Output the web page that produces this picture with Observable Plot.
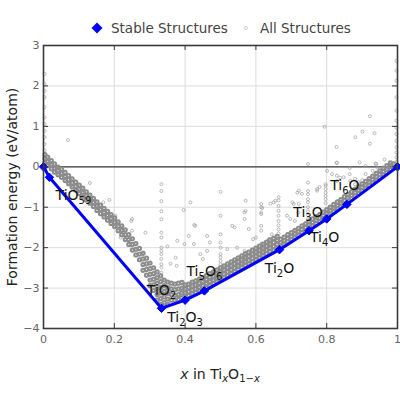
<!DOCTYPE html>
<html><head><meta charset="utf-8">
<script src="https://cdn.jsdelivr.net/npm/d3@7"></script>
<script src="https://cdn.jsdelivr.net/npm/@observablehq/plot@0.6"></script>
<style>
body{margin:0;background:#fff;font-family:"DejaVu Sans",sans-serif;}
#wrap{position:relative;width:400px;height:400px;overflow:hidden;}
#chart{position:absolute;left:0;top:0;}
.lg{position:absolute;font-size:13.5px;line-height:16px;color:#444;white-space:nowrap;}
#xlabel{position:absolute;left:0;width:440px;top:366px;text-align:center;font-size:14px;line-height:16px;color:#222;white-space:nowrap;}
#xlabel sub{font-size:10px;vertical-align:-3px;line-height:0;}
</style></head><body>
<div id="wrap">
  <div id="chart"></div>
  <svg class="lg" style="left:91px;top:22px" width="12" height="12"><polygon points="6,0.5 11.5,6 6,11.5 0.5,6" fill="#0000ff"/></svg>
  <div class="lg" style="left:111px;top:20px">Stable Structures</div>
  <svg class="lg" style="left:243px;top:25px" width="6" height="6"><circle cx="3" cy="3" r="1.5" fill="none" stroke="#c4c4c4" stroke-width="0.8"/></svg>
  <div class="lg" style="left:260px;top:20px">All Structures</div>
  <div id="xlabel"><i>x</i> in Ti<sub><i>x</i></sub>O<sub>1−<i>x</i></sub></div>
</div>
<script>
// ---- Stable structures (convex hull) ----
const stableNames = ["O", "TiO59", "TiO2", "Ti2O3", "Ti5O6", "Ti2O", "Ti3O", "Ti4O", "Ti6O", "Ti"];
const stableX = [0, 0.0167, 0.3333, 0.4, 0.4545, 0.6667, 0.75, 0.8, 0.8571, 1];
const stableY = [0, -0.26, -3.5, -3.3, -3.07, -2.05, -1.58, -1.29, -0.93, 0];

// ---- All structures: dense bands, given as columns [x, [y...]] ----
const leftBand = [
  [0.004,[0.3,0.2,0.1]],[0.012,[0.24,0.13,0.03]],[0.022,[0.15,0.05,-0.05]],[0.031,[0.07,-0.03,-0.13]],
  [0.041,[-0.01,-0.1,-0.2]],[0.051,[-0.06,-0.16,-0.26]],[0.061,[-0.14,-0.24,-0.34]],[0.071,[-0.22,-0.32,-0.42]],
  [0.081,[-0.3,-0.4,-0.5]],[0.091,[-0.38,-0.48,-0.58]],[0.101,[-0.45,-0.55,-0.66]],[0.111,[-0.53,-0.63,-0.74]],
  [0.121,[-0.62,-0.72,-0.82]],[0.131,[-0.7,-0.8,-0.9]],[0.141,[-0.78,-0.88,-0.98]],[0.151,[-0.87,-0.97,-1.08]],
  [0.161,[-0.95,-1.05,-1.16]],[0.171,[-1.03,-1.13,-1.24]],[0.181,[-1.1,-1.2,-1.32]],[0.191,[-1.18,-1.28,-1.4]],
  [0.201,[-1.26,-1.37,-1.48]],[0.211,[-1.36,-1.47,-1.58]],[0.221,[-1.46,-1.57,-1.68]],[0.231,[-1.56,-1.68,-1.8]],
  [0.241,[-1.68,-1.8,-1.92]],[0.251,[-1.78,-1.92,-2.06]],[0.261,[-1.9,-2.04,-2.18]],[0.271,[-2.02,-2.16,-2.3]],
  [0.281,[-2.14,-2.28,-2.42,-2.56]],[0.291,[-2.26,-2.4,-2.54,-2.68]],[0.301,[-2.38,-2.52,-2.66,-2.8,-2.94]],
  [0.311,[-2.5,-2.64,-2.78,-2.92,-3.06]],[0.321,[-2.6,-2.74,-2.88,-3.02,-3.16,-3.3]],
  [0.331,[-2.7,-2.84,-2.98,-3.12,-3.26,-3.4]],[0.341,[-2.8,-2.94,-3.08,-3.22,-3.36]],
  [0.351,[-2.85,-2.99,-3.13,-3.27,-3.4]],[0.361,[-2.88,-3.02,-3.16,-3.3]],[0.371,[-2.9,-3.04,-3.18,-3.3]],
  [0.381,[-2.88,-3.02,-3.16,-3.28]],[0.391,[-2.86,-3.0,-3.12,-3.24]]
];
const rightBand = [
  [0.40,[-3.22,-3.12,-3.02,-2.92]],[0.41,[-3.18,-3.09,-2.99,-2.9]],[0.42,[-3.14,-3.05,-2.95,-2.85]],
  [0.43,[-3.11,-3.02,-2.92,-2.82]],[0.44,[-3.07,-2.98,-2.88,-2.78]],[0.45,[-3.03,-2.94,-2.84,-2.74]],
  [0.46,[-2.98,-2.89,-2.79,-2.69]],[0.47,[-2.93,-2.84,-2.74,-2.64]],[0.48,[-2.89,-2.8,-2.7,-2.6]],
  [0.49,[-2.84,-2.75,-2.65,-2.55]],[0.50,[-2.79,-2.7,-2.6,-2.5]],[0.51,[-2.74,-2.65,-2.55,-2.45]],
  [0.52,[-2.69,-2.6,-2.5,-2.4]],[0.53,[-2.64,-2.55,-2.45,-2.35]],[0.54,[-2.59,-2.5,-2.4,-2.3]],
  [0.55,[-2.54,-2.45,-2.35,-2.25]],[0.56,[-2.49,-2.4,-2.3,-2.2]],[0.57,[-2.44,-2.35,-2.25,-2.15]],
  [0.58,[-2.4,-2.31,-2.21,-2.11]],[0.59,[-2.35,-2.26,-2.16,-2.06]],[0.60,[-2.3,-2.21,-2.11,-2.01]],
  [0.61,[-2.25,-2.16,-2.06,-1.96]],[0.62,[-2.2,-2.11,-2.01,-1.91]],[0.63,[-2.15,-2.06,-1.96,-1.86]],
  [0.64,[-2.1,-2.01,-1.91,-1.81]],[0.65,[-2.06,-1.97,-1.87,-1.77]],[0.66,[-2.01,-1.92,-1.82,-1.72]],
  [0.67,[-1.96,-1.88,-1.79]],[0.68,[-1.91,-1.83,-1.74]],[0.69,[-1.85,-1.77,-1.68]],[0.70,[-1.8,-1.72,-1.63]],
  [0.71,[-1.74,-1.66,-1.57]],[0.72,[-1.69,-1.61,-1.52]],[0.73,[-1.63,-1.55,-1.46]],[0.74,[-1.58,-1.5,-1.41]],
  [0.75,[-1.52,-1.44,-1.35]],[0.76,[-1.46,-1.38,-1.29]],[0.77,[-1.4,-1.32,-1.23]],[0.78,[-1.35,-1.27,-1.18]],
  [0.79,[-1.29,-1.21,-1.12]],[0.80,[-1.23,-1.15,-1.06]],[0.81,[-1.17,-1.09,-1.0]],[0.82,[-1.1,-1.02,-0.93]],
  [0.83,[-1.04,-0.96,-0.87]],[0.84,[-0.98,-0.9,-0.81]],[0.85,[-0.91,-0.83,-0.74]],[0.86,[-0.85,-0.77,-0.68]],
  [0.87,[-0.79,-0.71,-0.62]],[0.88,[-0.72,-0.64,-0.55]],[0.89,[-0.66,-0.58,-0.49]],[0.90,[-0.59,-0.51,-0.42]],
  [0.91,[-0.53,-0.45,-0.36]],[0.92,[-0.46,-0.38,-0.29]],[0.93,[-0.4,-0.32,-0.23]],[0.94,[-0.33,-0.25,-0.16]],
  [0.95,[-0.27,-0.19,-0.1]],[0.96,[-0.2,-0.12,-0.03]],[0.97,[-0.14,-0.06,0.03]],[0.98,[-0.07,0.01,0.1]],
  [0.99,[-0.01,0.07]]
];
// vertical streaks of structures at fixed compositions
const streaks = [
  [0.003,[2.3,2.05,1.88,1.72,1.47,1.22,1.06,0.89,0.73,0.56,0.4]],
  [0.997,[2.62,2.38,2.13,1.72,1.39,1.14,0.97,0.81,0.64,0.48,0.35,0.23,0.12]],
  [0.333,[-0.43,-0.6,-0.85,-1.1,-1.3,-1.63,-1.75,-2.0,-2.08,-2.16,-2.28,-2.41,-2.49,-2.62]],
  [0.5,[-0.62,-1.21,-1.67,-1.87,-2.0,-2.16,-2.24,-2.33,-2.41,-2.49,-2.57,-2.62]],
  [0.568,[-1.13,-1.29,-2.08,-2.16,-2.28]],
  [0.615,[-0.92,-1.0,-1.13,-1.17,-1.46,-1.58,-1.91,-2.04,-2.12]],
  [0.664,[-0.75,-0.83,-0.97,-1.09,-1.21,-1.34,-1.45,-1.55,-1.65]],
  [0.747,[0.07,-0.39,-0.6,-0.68,-0.8,-0.88,-1.0,-1.1,-1.2,-1.3]],
  [0.797,[-0.43,-0.47,-0.55,-0.64,-0.72,-0.8,-0.9]]
];
// isolated structures [x, y]
const scattered = [
  [0.069,0.66],[0.794,0.99],[0.922,1.25],[0.901,0.87],[0.881,0.73],[0.935,0.83],[0.922,0.57],[0.828,0.49],
  [0.828,0.1],[0.893,0.11],[0.94,0.07],[0.963,0.18],[0.865,-0.03],[0.91,0.02],[0.938,0.08],[0.829,0.1],
  [0.131,-0.4],[0.169,-0.88],[0.186,-0.82],[0.203,-1.21],[0.218,-1.75],[0.248,-1.34],[0.25,-1.29],[0.25,-1.58],
  [0.288,-1.63],[0.283,-2.12],[0.415,-0.88],[0.429,-1.46],[0.373,-2.25],[0.35,-1.97],[0.378,-1.83],[0.462,-2.08],
  [0.359,-2.4],[0.376,-2.45],[0.41,-1.71],[0.425,-1.91],[0.571,-0.84],[0.571,-1.09],[0.396,-1.07],[0.618,-1.02],
  [0.426,-1.44],[0.398,-1.91],[0.443,-2.16],[0.45,-2.28],[0.462,-1.71],[0.47,-1.87],[0.533,-1.46],[0.54,-1.5],
  [0.58,-1.54],[0.592,-1.79],[0.6,-1.75],[0.636,-1.79],[0.64,-1.91],[0.645,-1.67],[0.519,-2.04],[0.547,-2.0],
  [0.561,-2.41],[0.641,-0.91],[0.655,-0.84],[0.65,-0.88],[0.717,-0.64],[0.721,-0.92],[0.703,-0.88],[0.688,-1.21],
  [0.697,-1.29],[0.721,-0.59],[0.73,-0.67],[0.707,-0.92],[0.71,-1.34],[0.72,-1.13],[0.773,-0.59],[0.773,-0.55],
  [0.78,-0.5],[0.801,-0.1],[0.815,-0.18],[0.829,-0.22],[0.838,-0.27],[0.867,-0.35],[0.88,-0.43],[0.91,-0.18],
  [0.93,-0.1],[0.943,-0.02],[0.83,-0.35],[0.848,-0.26],[0.865,-0.18],[0.88,-0.3],[0.89,-0.38],[0.9,-0.33]
];

const xTicks = [0, 0.2, 0.4, 0.6, 0.8, 1];
const yTicks = [-4, -3, -2, -1, 0, 1, 2, 3];
const yLabel = "Formation energy (eV/atom)";

// label placement (pixel offsets from the marker), styling only
const labelOffset = {TiO59:[24,18], TiO2:[0,-18], Ti2O3:[0,17], Ti5O6:[0,-19], Ti2O:[0,19], Ti3O:[-1,-18], Ti4O:[-2,19], Ti6O:[-2,-19]};

// ---- build tables ----
const bandPts = [];
for (const [x, ys] of [...leftBand, ...rightBand]) for (const y of ys) bandPts.push({x, y});
const sparsePts = [];
for (const [x, ys] of streaks) for (const y of ys) sparsePts.push({x, y});
for (const [x, y] of scattered) sparsePts.push({x, y});
const stable = stableNames.map((name, i) => ({name, x: stableX[i], y: stableY[i]}));
const labeled = stable.filter(d => labelOffset[d.name]);

const frameH = 400 - 45 - 72, frameW = 400 - 43 - 3;
const fmtY = d => d < 0 ? "\u2212" + Math.abs(d) : String(d);

const plot = Plot.plot({
  width: 400, height: 400,
  marginLeft: 43, marginRight: 3, marginTop: 45, marginBottom: 72,
  x: {domain: [0, 1]},
  y: {domain: [-4, 3]},
  style: {fontFamily: "DejaVu Sans, sans-serif", fontSize: "11px", color: "#666", background: "white", overflow: "visible"},
  marks: [
    Plot.ruleX(xTicks, {x: d => d, stroke: "#dcdcdc", strokeWidth: 1}),
    Plot.ruleY(yTicks, {y: d => d, stroke: "#dcdcdc", strokeWidth: 1}),
    Plot.ruleY([0], {y: d => d, stroke: "#3a3a3a", strokeWidth: 1.2}),
    Plot.dot(sparsePts, {x: "x", y: "y", r: 1.5, fill: "none", stroke: "#9a9a9a", strokeWidth: 0.8, strokeOpacity: 0.85}),
    Plot.dot(bandPts, {x: "x", y: "y", r: 1.6, fill: "none", stroke: "#8c8c8c", strokeWidth: 2}),
    Plot.line(stable, {x: "x", y: "y", stroke: "#0000ff", strokeWidth: 3}),
    Plot.dot(stable, {x: "x", y: "y", symbol: "diamond2", r: 3.8, fill: "#0000ff", stroke: "#0000ff", strokeWidth: 1}),
    Plot.text(labeled, {x: "x", y: "y", text: "name", fontSize: 14, fill: "#111"}),
    Plot.frame({stroke: "#3a3a3a", strokeWidth: 1.6}),
    // inward ticks on all four sides
    Plot.tickX(xTicks, {x: d => d, insetTop: frameH - 5, stroke: "#3a3a3a"}),
    Plot.tickX(xTicks, {x: d => d, insetBottom: frameH - 5, stroke: "#3a3a3a"}),
    Plot.tickY(yTicks, {y: d => d, insetRight: frameW - 5, stroke: "#3a3a3a"}),
    Plot.tickY(yTicks, {y: d => d, insetLeft: frameW - 5, stroke: "#3a3a3a"}),
    Plot.axisX(xTicks, {tickSize: 0, tickPadding: 7, label: null, tickFormat: d => String(d), fill: "#666"}),
    Plot.axisY(yTicks, {tickSize: 0, tickPadding: 4, label: null, tickFormat: fmtY, fill: "#666"}),
    Plot.text([yLabel], {frameAnchor: "left", textAnchor: "middle", dx: -31, rotate: -90, fontSize: 14, fill: "#222"})
  ]
});
document.getElementById("chart").appendChild(plot);

// place hull labels and render digits as subscripts
const svg = d3.select(plot);
const names = new Set(labeled.map(d => d.name));
svg.selectAll("text").filter(function() { return names.has(this.textContent); }).each(function() {
  const t = d3.select(this);
  const name = this.textContent;
  const [ox, oy] = labelOffset[name];
  const tr = t.attr("transform") || "";
  t.attr("transform", tr + ` translate(${ox},${oy})`);
  t.text("");
  const parts = name.match(/\d+|\D+/g);
  let sub = false;
  for (const p of parts) {
    const isDigit = /\d/.test(p);
    const ts = t.append("tspan").text(p);
    if (isDigit && !sub) { ts.attr("dy", 4).attr("font-size", 10); sub = true; }
    else if (isDigit) { ts.attr("font-size", 10); }
    else if (sub) { ts.attr("dy", -4); sub = false; }
  }
});
</script>
</body></html>
